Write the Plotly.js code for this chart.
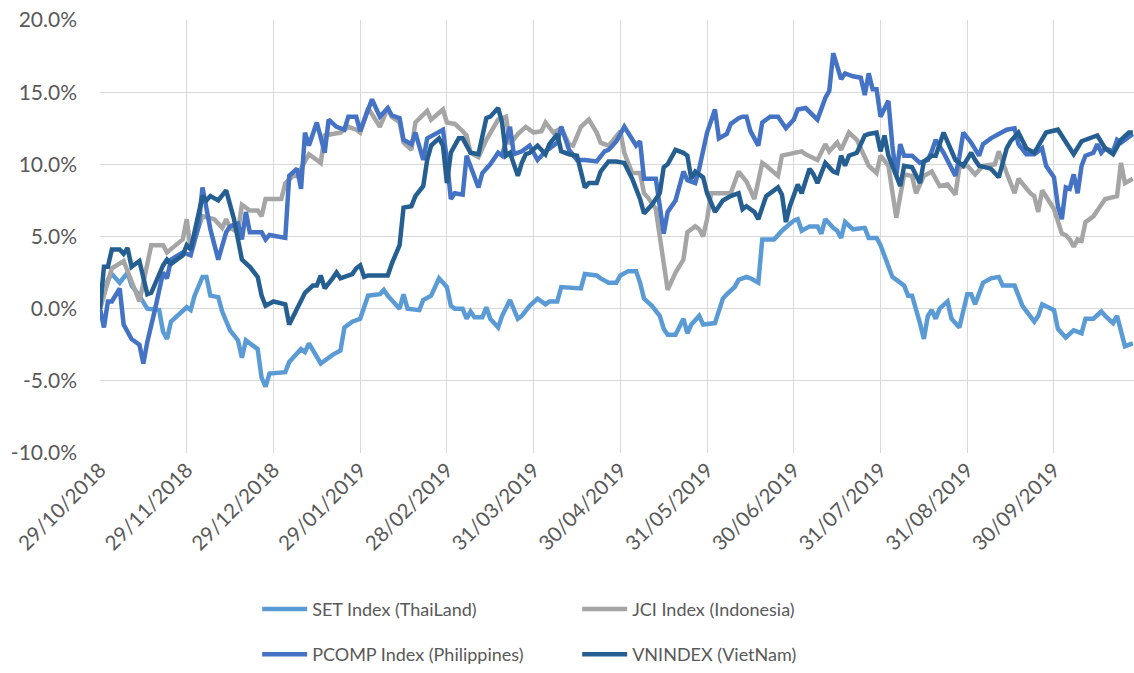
<!DOCTYPE html>
<html>
<head>
<meta charset="utf-8">
<script src="https://cdn.plot.ly/plotly-3.0.1.min.js"></script>
<style>
html,body{margin:0;padding:0;background:#fff;}
#chart{width:1134px;height:673px;}
</style>
</head>
<body>
<div id="chart"></div>
<script>
// x = trading-day index since 29/10/2018, y = cumulative change in %
const tickIdx = [0, 22, 44, 66, 88, 110, 132, 154, 176, 198, 220, 242];
const tickLabels = ["29/10/2018","29/11/2018","29/12/2018","29/01/2019","28/02/2019","31/03/2019",
  "30/04/2019","31/05/2019","30/06/2019","31/07/2019","31/08/2019","30/09/2019"];
const yTickVals = [-10, -5, 0, 5, 10, 15, 20];
const yTickLabels = ["-10.0%", "-5.0%", "0.0%", "5.0%", "10.0%", "15.0%", "20.0%"];

const seriesNames = ["SET Index (ThaiLand)", "JCI Index (Indonesia)", "PCOMP Index (Philippines)", "VNINDEX (VietNam)"];

const setIndex = [[0,0],[1,1.0],[2,2.0],[3,2.4],[5,1.8],[7,2.5],[8,1.6],[10,0.9],[12,0.0],[15,-0.1],[16,-1.6],[17,-2.1],[18,-0.9],[22,0.1],[23,-0.1],[24,0.9],[26,2.2],[27,2.2],[28,0.9],[30,0.8],[31,-0.2],[33,-1.5],[35,-2.2],[36,-3.4],[37,-2.2],[40,-2.8],[41,-4.8],[42,-5.4],[43,-4.5],[47,-4.4],[48,-3.7],[51,-2.8],[52,-3.0],[53,-2.4],[56,-3.8],[59,-3.2],[61,-2.9],[62,-1.3],[64,-0.9],[66,-0.7],[68,0.9],[71,1.0],[72,1.3],[73,0.9],[76,0],[77,1.0],[78,0],[81,-0.1],[82,0.6],[84,0.9],[85,1.6],[86,2.1],[88,1.5],[89,0.2],[90,0],[92,0],[93,-0.7],[94,-0.2],[95,-0.6],[97,-0.6],[98,0.1],[99,-0.7],[101,-1.3],[102,-0.5],[104,0.6],[106,-0.7],[107,-0.5],[109,0.2],[111,0.7],[113,0.3],[114,0.5],[116,0.5],[117,1.5],[120,1.4],[122,1.4],[123,2.4],[126,2.3],[127,2.1],[129,1.8],[131,1.8],[132,2.3],[134,2.6],[136,2.6],[137,1.8],[138,0.7],[140,0.2],[142,-0.5],[143,-1.4],[144,-1.8],[146,-1.8],[148,-0.7],[149,-1.7],[150,-1.1],[152,-0.5],[153,-1.1],[156,-1.0],[158,0.7],[159,1.0],[161,1.5],[162,2.0],[164,2.2],[165,2.1],[167,1.8],[168,4.8],[171,4.8],[173,5.4],[176,6.1],[177,6.2],[178,5.4],[180,5.7],[182,5.7],[183,5.2],[184,6.2],[186,5.6],[187,5.4],[188,4.9],[189,6.0],[191,5.5],[194,5.6],[195,4.9],[197,4.9],[198,4.4],[200,3.0],[201,2.2],[203,1.8],[204,1.6],[205,0.9],[206,0.9],[208,-1.0],[209,-2.1],[210,-0.5],[211,-0.1],[212,-0.7],[213,0],[215,0.5],[216,-0.7],[218,-1.3],[220,1.0],[221,1.0],[222,0.3],[224,1.8],[226,2.1],[228,2.2],[229,1.6],[231,1.6],[232,1.6],[234,0.2],[237,-0.9],[238,-0.5],[239,0.3],[242,-0.1],[243,-1.4],[245,-2.0],[247,-1.5],[249,-1.7],[250,-0.7],[252,-0.7],[254,-0.2],[255,-0.5],[257,-1.0],[258,-0.5],[260,-2.6],[262,-2.4]];

const jciIndex = [[0,0],[2,1.8],[3,2.8],[6,3.3],[10,0.5],[13,4.4],[16,4.4],[17,3.9],[20,4.6],[21,4.8],[22,6.2],[23,4.1],[26,6.4],[29,6.2],[31,5.6],[32,6.2],[33,5.6],[35,5.3],[36,7.2],[38,6.8],[40,6.8],[41,6.4],[42,7.6],[46,7.6],[47,8.7],[49,9.2],[50,9.2],[52,10.3],[53,10.7],[56,10.1],[57,12.0],[59,12.1],[61,12.2],[63,12.6],[65,12.4],[66,12.2],[68,13.9],[71,12.6],[73,13.9],[74,13.3],[76,12.9],[77,11.5],[79,11.0],[80,12.9],[83,13.7],[84,13.1],[87,13.8],[88,12.9],[90,12.8],[92,12.3],[93,12.0],[94,10.8],[96,10.5],[98,11.7],[99,12.2],[101,13.1],[103,13.3],[104,11.4],[106,12.1],[108,12.6],[110,12.2],[112,12.3],[113,12.9],[115,12.2],[117,12.5],[119,11.4],[120,11.3],[122,12.6],[124,13.1],[126,12.2],[127,11.5],[129,11.3],[130,11.6],[132,12.3],[133,10.8],[135,9.4],[137,9.4],[138,8.0],[139,7.7],[141,6.9],[142,5.0],[143,3.0],[144,1.3],[146,2.5],[148,3.4],[149,5.3],[151,5.7],[152,5.5],[153,5.0],[154,6.2],[155,8.0],[158,8.0],[160,8.0],[162,9.5],[164,8.8],[166,7.6],[168,10.1],[169,9.9],[172,9.2],[173,10.6],[175,10.7],[178,10.9],[179,10.7],[182,10.3],[184,11.4],[185,10.9],[187,11.5],[188,11.0],[190,12.2],[192,11.7],[193,11.1],[195,9.9],[197,9.4],[198,10.6],[200,9.9],[201,8.3],[202,6.3],[204,9.3],[206,9.2],[207,8.0],[209,9.2],[211,9.5],[213,8.5],[215,8.6],[217,7.9],[218,9.8],[220,9.9],[222,9.3],[224,9.9],[227,10.0],[228,10.9],[230,9.4],[232,8.0],[233,9.0],[236,8.0],[237,7.8],[238,6.7],[239,8.2],[242,6.9],[244,5.2],[245,5.1],[246,4.8],[247,4.3],[248,4.8],[249,4.7],[250,6.0],[252,6.4],[254,7.2],[255,7.6],[258,7.8],[259,10.1],[260,8.7],[262,9.0]];

const pcompIndex = [[0,0],[1,-1.3],[2,0.5],[3,0.5],[5,1.4],[6,-1.1],[8,-2.1],[10,-2.5],[11,-3.8],[12,-2.3],[14,0],[16,2.5],[17,2.1],[18,3.4],[21,3.9],[23,3.7],[25,5.7],[26,8.4],[28,5.5],[30,3.4],[32,5.3],[33,5.7],[35,5.9],[36,4.8],[37,6.7],[38,5.3],[41,5.3],[42,4.8],[43,5.1],[47,4.9],[48,9.2],[50,9.7],[51,8.3],[52,12.2],[53,11.3],[55,12.9],[57,10.8],[58,13.1],[60,12.6],[62,12.4],[63,13.3],[65,13.3],[66,12.3],[69,14.5],[71,13.3],[73,13.9],[74,13.4],[76,13.2],[77,11.7],[79,11.4],[80,12.2],[82,10.3],[83,11.8],[85,12.1],[87,12.4],[88,10.3],[89,7.6],[90,8.0],[92,7.9],[93,10.6],[94,9.9],[96,8.4],[97,9.4],[99,10.0],[101,10.8],[102,10.6],[104,12.6],[105,10.7],[107,10.9],[109,11.3],[110,10.8],[111,10.3],[113,10.9],[116,11.5],[117,12.6],[119,11.0],[121,10.3],[123,10.3],[126,10.2],[128,10.9],[129,11.0],[131,11.6],[133,12.6],[136,11.3],[137,11.6],[138,9.0],[141,9.0],[143,5.2],[144,6.7],[146,7.5],[147,8.5],[148,9.5],[149,8.9],[151,8.7],[152,9.7],[154,12.2],[156,13.8],[157,11.8],[159,12.1],[160,12.8],[162,13.2],[163,13.3],[164,13.3],[165,12.3],[167,11.3],[168,12.9],[170,13.3],[172,13.3],[173,12.9],[174,12.5],[176,13.1],[177,13.8],[179,13.9],[180,13.6],[182,13.1],[184,14.6],[185,15.1],[186,17.7],[188,15.9],[189,16.3],[191,16.1],[193,16.0],[194,14.8],[195,16.3],[196,15.2],[197,15.2],[198,13.3],[200,14.4],[201,11.3],[202,9.2],[203,11.4],[204,10.6],[206,10.6],[208,10.1],[210,10.3],[211,10.9],[212,11.7],[214,10.8],[217,9.2],[218,10.5],[219,12.2],[221,11.5],[223,10.6],[224,11.4],[226,11.8],[228,12.1],[230,12.4],[232,12.5],[233,11.4],[235,10.7],[237,10.7],[239,11.1],[240,9.9],[242,9.1],[243,7.1],[244,6.2],[245,8.4],[246,8.3],[247,9.3],[248,8.0],[249,9.9],[250,10.6],[252,10.8],[253,11.4],[254,10.8],[255,11.1],[257,10.9],[258,11.7],[259,11.5],[262,12.1]];

const vnIndex = [[0,0],[1,2.9],[2,2.9],[3,4.1],[5,4.1],[6,3.8],[7,4.2],[8,2.9],[10,3.3],[11,2.1],[12,1.0],[13,1.1],[16,3.0],[17,3.4],[18,3.1],[21,3.7],[22,4.4],[23,4.1],[26,7.8],[27,7.5],[28,7.8],[30,7.5],[32,8.2],[34,6.2],[36,3.4],[38,2.9],[40,2.2],[41,0.9],[42,0.2],[44,0.5],[47,0.3],[48,-1.1],[50,0],[51,0.7],[52,1.1],[54,1.6],[55,1.6],[56,2.3],[57,1.4],[59,2.1],[60,2.5],[61,2.1],[64,2.4],[65,2.8],[66,3.0],[67,2.2],[68,2.3],[73,2.3],[74,3.1],[76,4.4],[77,7.0],[79,7.1],[80,7.8],[82,8.5],[83,10.3],[84,11.3],[86,11.8],[87,11.3],[88,8.7],[89,10.8],[91,11.8],[92,11.8],[94,10.8],[96,10.7],[98,13.2],[99,13.3],[101,13.9],[102,12.9],[103,10.6],[104,10.8],[106,9.2],[107,10.1],[108,10.7],[109,10.8],[111,11.3],[113,10.7],[114,11.4],[116,12.1],[117,10.9],[119,10.7],[121,10.6],[123,8.4],[124,8.7],[126,8.7],[127,9.5],[129,10.2],[131,10.2],[133,10.1],[135,9.0],[137,7.6],[138,6.6],[140,7.2],[142,8.0],[143,9.8],[144,10.0],[146,11.0],[148,10.8],[149,10.6],[150,9.0],[151,9.5],[153,9.1],[154,8.0],[156,6.7],[157,7.1],[158,7.5],[160,7.8],[162,8.0],[163,6.9],[164,7.1],[166,6.7],[167,6.2],[169,7.8],[172,8.4],[173,7.9],[174,6.0],[175,7.1],[177,8.6],[178,8.0],[180,9.7],[181,9.3],[182,8.7],[184,10.1],[186,9.5],[187,9.4],[188,10.6],[189,9.9],[190,10.6],[192,10.8],[193,11.5],[194,12.0],[195,12.1],[197,12.2],[198,10.9],[199,12.0],[200,10.6],[203,8.5],[204,9.9],[206,9.8],[208,8.7],[209,10.2],[211,10.6],[212,10.6],[214,12.2],[216,11.0],[217,10.3],[219,9.9],[221,10.8],[222,10.3],[223,9.9],[226,9.7],[228,9.1],[230,11.1],[231,11.6],[233,12.2],[235,11.1],[237,10.8],[240,12.2],[243,12.4],[245,11.5],[247,10.7],[249,11.6],[253,12.0],[255,11.1],[257,10.7],[259,11.7],[261,12.2],[262,12.2]];

const seriesData = [setIndex, jciIndex, pcompIndex, vnIndex];
const seriesColors = ["#5b9bd5", "#a5a5a5", "#4472c4", "#255e91"];
const seriesLegend = ["legend", "legend", "legend2", "legend2"];

const FONT = "Lato, 'Open Sans', sans-serif";
const TXT = "#595959";

const traces = seriesData.map((d, k) => ({
  type: "scatter",
  mode: "lines",
  name: seriesNames[k],
  x: d.map(p => p[0]),
  y: d.map(p => p[1]),
  line: {color: seriesColors[k], width: 4.5},
  legend: seriesLegend[k],
  hoverinfo: "skip"
}));

const legendBase = {
  orientation: "h",
  xanchor: "left",
  yanchor: "middle",
  x: 0.152,
  entrywidth: 260,
  entrywidthmode: "pixels",
  itemwidth: 45,
  font: {family: FONT, size: 18, color: TXT},
  bgcolor: "rgba(0,0,0,0)",
  traceorder: "normal"
};

const layout = {
  width: 1134,
  height: 673,
  margin: {l: 100, r: 0, t: 20, b: 218},
  paper_bgcolor: "#ffffff",
  plot_bgcolor: "#ffffff",
  showlegend: true,
  font: {family: FONT, color: TXT},
  xaxis: {
    range: [0, 262.3],
    tickmode: "array",
    tickvals: tickIdx,
    ticktext: tickLabels,
    tickangle: -45,
    showgrid: true,
    gridcolor: "#d9d9d9",
    gridwidth: 1,
    zeroline: false,
    showline: false,
    ticks: "",
    tickfont: {family: FONT, size: 20.5, color: TXT}
  },
  yaxis: {
    range: [-10, 20],
    tickmode: "array",
    tickvals: yTickVals,
    ticktext: yTickLabels,
    showgrid: true,
    gridcolor: "#d9d9d9",
    gridwidth: 1,
    zeroline: false,
    showline: false,
    ticks: "",
    ticklabelstandoff: 22,
    tickfont: {family: FONT, size: 21, color: TXT}
  },
  legend: Object.assign({}, legendBase, {y: -0.361}),
  legend2: Object.assign({}, legendBase, {y: -0.466})
};

Plotly.newPlot("chart", traces, layout, {displayModeBar: false, staticPlot: true});
</script>
</body>
</html>
